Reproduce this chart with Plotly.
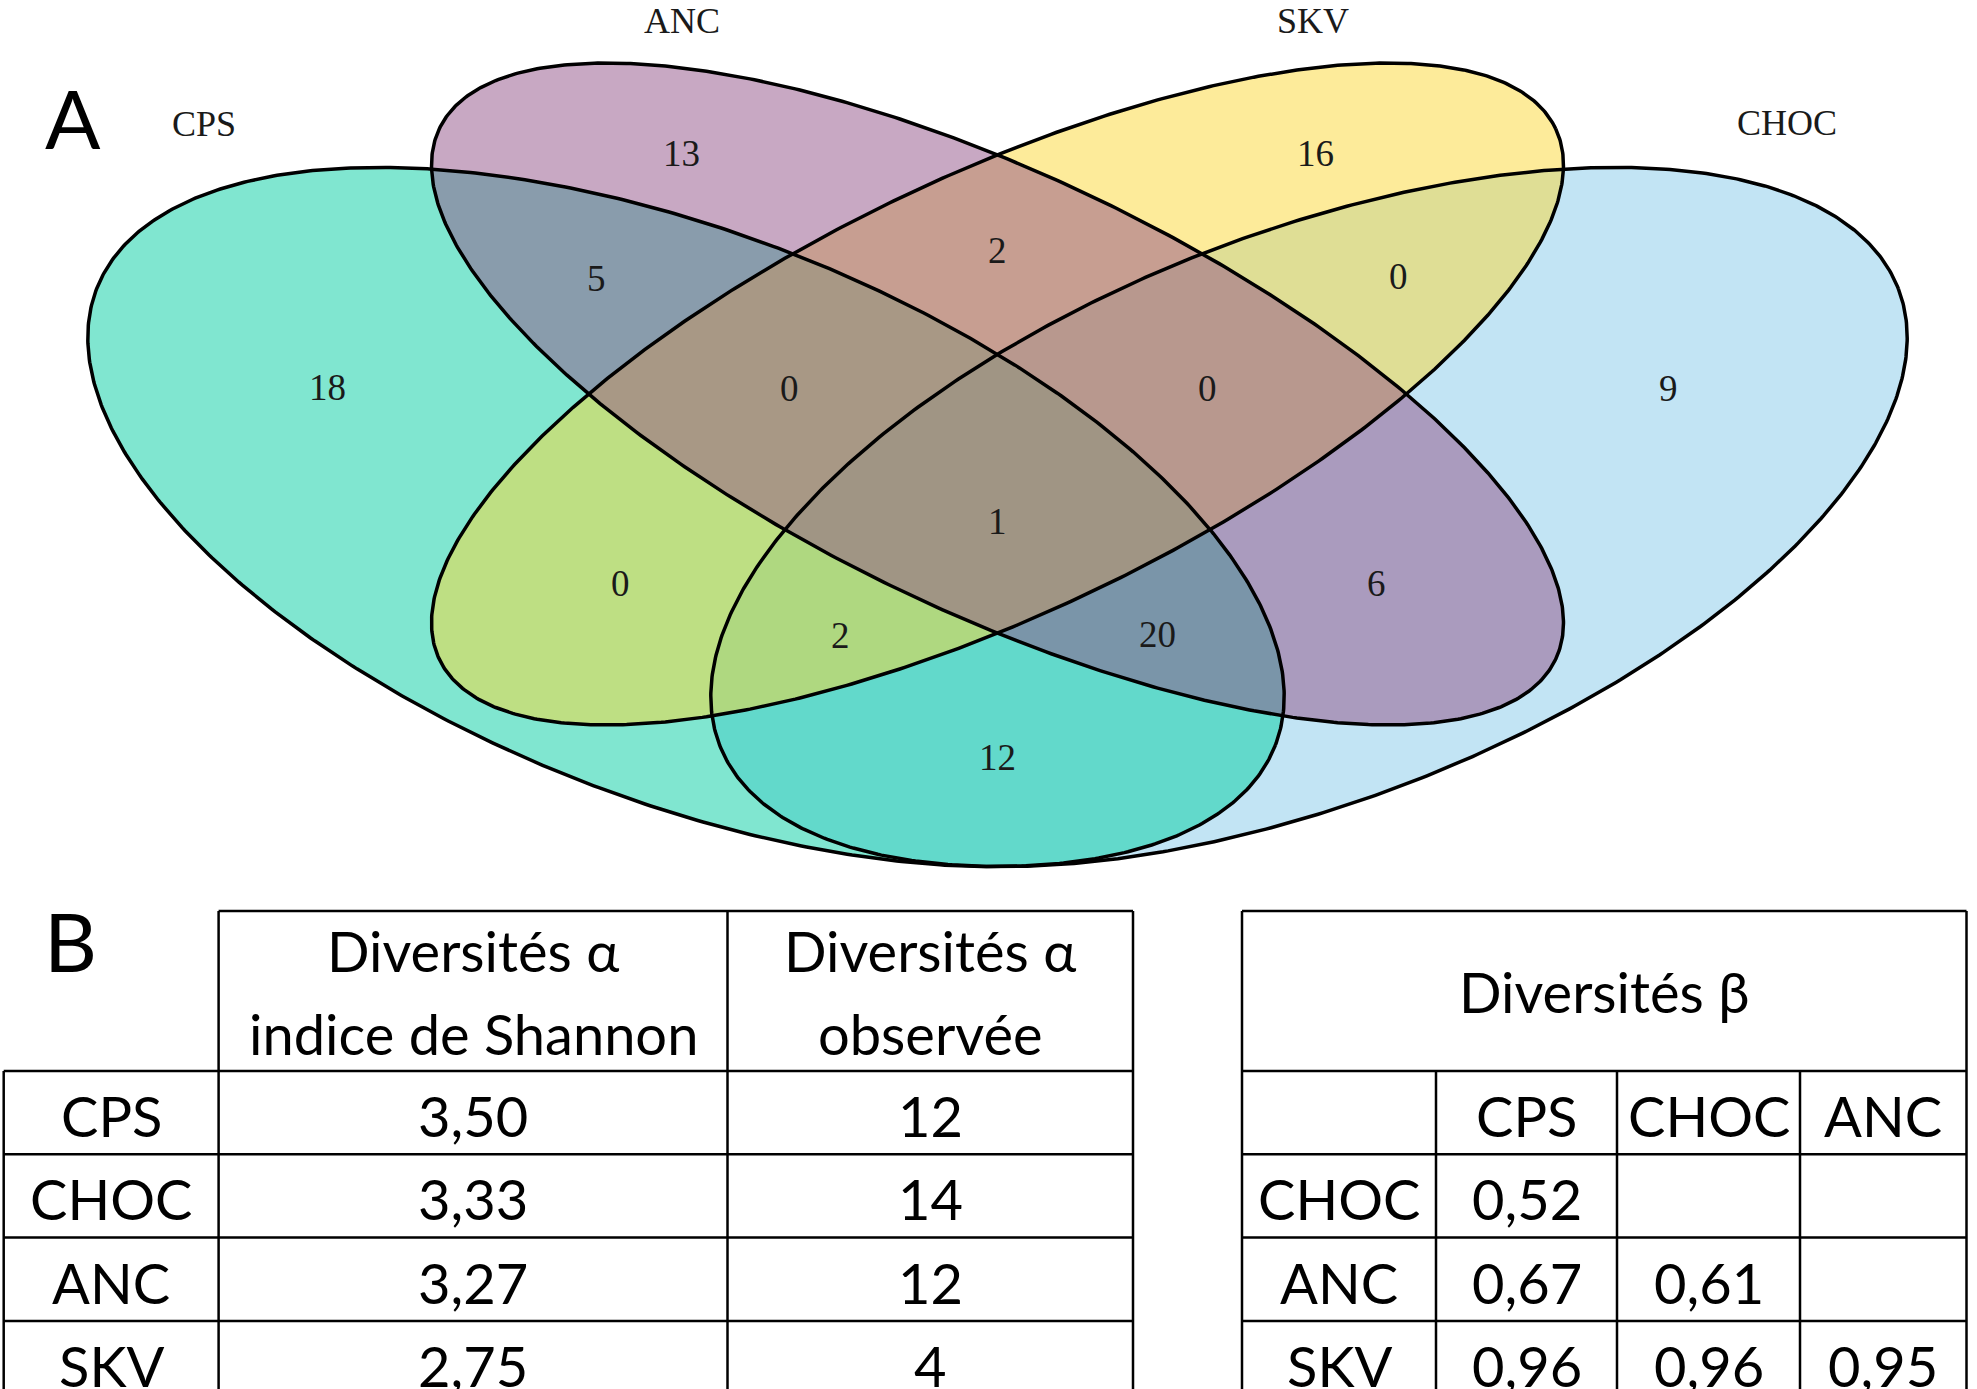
import numpy as np
import plotly.graph_objects as go

# ------------------------------------------------------------------
# DATA
# ------------------------------------------------------------------
set_names = ["CPS", "ANC", "SKV", "CHOC"]

# Venn regions (members of each exclusive region) and their counts
region_members = [
    ("CPS",), ("ANC",), ("SKV",), ("CHOC",),
    ("CPS", "ANC"), ("ANC", "SKV"), ("SKV", "CHOC"),
    ("CPS", "ANC", "SKV"), ("ANC", "SKV", "CHOC"),
    ("CPS", "ANC", "SKV", "CHOC"),
    ("CPS", "SKV"), ("ANC", "CHOC"),
    ("CPS", "SKV", "CHOC"), ("CPS", "ANC", "CHOC"),
    ("CPS", "CHOC"),
]
region_counts = [18, 13, 16, 9, 5, 2, 0, 0, 0, 1, 0, 6, 2, 20, 12]

# Table B (alpha diversity)
alpha_sites = ["CPS", "CHOC", "ANC", "SKV"]
shannon_index = [3.50, 3.33, 3.27, 2.75]
observed_richness = [12, 14, 12, 4]
alpha_headers = [["Diversités α", "indice de Shannon"], ["Diversités α", "observée"]]

# Table B (beta diversity)
beta_title = "Diversités β"
beta_rows = ["CHOC", "ANC", "SKV"]
beta_cols = ["CPS", "CHOC", "ANC"]
beta_values = [[0.52, None, None],
               [0.67, 0.61, None],
               [0.96, 0.96, 0.95]]

# ------------------------------------------------------------------
# LAYOUT / STYLE (pixel space of the 1977 x 1389 canvas)
# ------------------------------------------------------------------
W, H = 1977, 1389
AXIS_X = 997.5
CPS_CX = 686.0

ellipse_geom = {
    "CPS":  dict(cx=CPS_CX, cy=517.0, a=632.0, b=284.0, ang=21.17, rgb=(1, 205, 161)),
    "ANC":  dict(cx=AXIS_X, cy=394.0, a=618.0, b=219.0, ang=25.43, rgb=(145, 81, 135)),
    "SKV":  dict(cx=AXIS_X, cy=394.0, a=618.0, b=219.0, ang=-25.43, rgb=(251, 215, 53)),
    "CHOC": dict(cx=2 * AXIS_X - CPS_CX, cy=517.0, a=632.0, b=284.0, ang=-21.17, rgb=(133, 201, 233)),
}
draw_order = ["CHOC", "CPS", "SKV", "ANC"]

set_label_pos = {"CPS": (204, 124), "ANC": (682, 21), "SKV": (1313, 21), "CHOC": (1787, 123)}

region_label_pos = {
    frozenset(["CPS"]): (327, 387),
    frozenset(["ANC"]): (681, 153),
    frozenset(["SKV"]): (1315, 153),
    frozenset(["CHOC"]): (1668, 388),
    frozenset(["CPS", "ANC"]): (596, 278),
    frozenset(["ANC", "SKV"]): (997, 250),
    frozenset(["SKV", "CHOC"]): (1398, 276),
    frozenset(["CPS", "ANC", "SKV"]): (789, 388),
    frozenset(["ANC", "SKV", "CHOC"]): (1207, 388),
    frozenset(["CPS", "ANC", "SKV", "CHOC"]): (997, 521),
    frozenset(["CPS", "SKV"]): (620, 583),
    frozenset(["ANC", "CHOC"]): (1376, 583),
    frozenset(["CPS", "SKV", "CHOC"]): (840, 635),
    frozenset(["CPS", "ANC", "CHOC"]): (1157, 634),
    frozenset(["CPS", "CHOC"]): (997, 757),
}

SERIF = "Liberation Serif, Times New Roman, serif"
SANS = "Lato, Carlito, Calibri, sans-serif"
TABLE_FONT = 56
LINE_W = 2.5

fig = go.Figure()

# ---- Venn ellipses: fills first, then outlines ----
t = np.linspace(0, 2 * np.pi, 721)


def ellipse_xy(g):
    phi = np.deg2rad(g["ang"])
    x = g["cx"] + g["a"] * np.cos(t) * np.cos(phi) - g["b"] * np.sin(t) * np.sin(phi)
    y = g["cy"] + g["a"] * np.cos(t) * np.sin(phi) + g["b"] * np.sin(t) * np.cos(phi)
    return x, y


for name in draw_order:
    g = ellipse_geom[name]
    x, y = ellipse_xy(g)
    r, gg, b = g["rgb"]
    fig.add_trace(go.Scatter(
        x=x, y=y, mode="lines", fill="toself",
        fillcolor=f"rgba({r},{gg},{b},0.5)",
        line=dict(width=0, color="rgba(0,0,0,0)"),
        hoverinfo="skip", showlegend=False, name=name))

for name in draw_order:
    x, y = ellipse_xy(ellipse_geom[name])
    fig.add_trace(go.Scatter(
        x=x, y=y, mode="lines", line=dict(width=3.5, color="black"),
        hoverinfo="skip", showlegend=False))

annotations = []


def add_text(x, y, text, size, family, color="black"):
    annotations.append(dict(
        x=x, y=y, xref="x", yref="y", text=text, showarrow=False,
        xanchor="center", yanchor="middle", borderpad=0,
        font=dict(size=size, family=family, color=color)))


for name in set_names:
    px, py = set_label_pos[name]
    add_text(px, py, name, 36, SERIF, "#1a1a1a")

for members, count in zip(region_members, region_counts):
    px, py = region_label_pos[frozenset(members)]
    add_text(px, py, str(count), 37, SERIF, "#1a1a1a")

# panel letters
add_text(73, 117, "A", 82, SANS)
add_text(70, 940, "B", 82, SANS)

# ---- tables ----
shapes = []


def hline(y, x0, x1):
    shapes.append(dict(type="line", xref="x", yref="y", x0=x0, x1=x1, y0=y, y1=y,
                       line=dict(color="black", width=LINE_W)))


def vline(x, y0, y1):
    shapes.append(dict(type="line", xref="x", yref="y", x0=x, x1=x, y0=y0, y1=y1,
                       line=dict(color="black", width=LINE_W)))


def fmt(v):
    return "" if v is None else f"{v:.2f}".replace(".", ",")


TOP = 911.0
HEAD_BOT = 1071.0
ROW_H = 83.3
TXT_DY = 3.0

# left table (alpha)
lx = [3.7, 218.6, 727.5, 1133.0]
n_rows = len(alpha_sites)
l_bot = HEAD_BOT + n_rows * ROW_H
hline(TOP, lx[1], lx[-1])
for k in range(n_rows + 1):
    hline(HEAD_BOT + k * ROW_H, lx[0], lx[-1])
vline(lx[0], HEAD_BOT, l_bot)
for xv in lx[1:]:
    vline(xv, TOP, l_bot)

for j, lines in enumerate(alpha_headers):
    cx = (lx[j + 1] + lx[j + 2]) / 2
    add_text(cx, 950, lines[0], TABLE_FONT, SANS)
    add_text(cx, 1033, lines[1], TABLE_FONT, SANS)

for i, site in enumerate(alpha_sites):
    cy = HEAD_BOT + (i + 0.5) * ROW_H + TXT_DY
    add_text((lx[0] + lx[1]) / 2, cy, site, TABLE_FONT, SANS)
    add_text((lx[1] + lx[2]) / 2, cy, fmt(shannon_index[i]), TABLE_FONT, SANS)
    add_text((lx[2] + lx[3]) / 2, cy, str(observed_richness[i]), TABLE_FONT, SANS)

# right table (beta)
rx = [1242.0, 1436.0, 1617.0, 1800.0, 1966.5]
r_bot = HEAD_BOT + (len(beta_rows) + 1) * ROW_H
hline(TOP, rx[0], rx[-1])
for k in range(len(beta_rows) + 2):
    hline(HEAD_BOT + k * ROW_H, rx[0], rx[-1])
vline(rx[0], TOP, r_bot)
vline(rx[-1], TOP, r_bot)
for xv in rx[1:-1]:
    vline(xv, HEAD_BOT, r_bot)

add_text((rx[0] + rx[-1]) / 2, 991, beta_title, TABLE_FONT, SANS)
cy = HEAD_BOT + 0.5 * ROW_H + TXT_DY
for j, c in enumerate(beta_cols):
    add_text((rx[j + 1] + rx[j + 2]) / 2, cy, c, TABLE_FONT, SANS)
for i, rname in enumerate(beta_rows):
    cy = HEAD_BOT + (i + 1.5) * ROW_H + TXT_DY
    add_text((rx[0] + rx[1]) / 2, cy, rname, TABLE_FONT, SANS)
    for j, v in enumerate(beta_values[i]):
        if v is not None:
            add_text((rx[j + 1] + rx[j + 2]) / 2, cy, fmt(v), TABLE_FONT, SANS)

fig.update_layout(
    width=W, height=H,
    margin=dict(l=0, r=0, t=0, b=0),
    paper_bgcolor="white", plot_bgcolor="white",
    xaxis=dict(range=[0, W], visible=False, fixedrange=True),
    yaxis=dict(range=[H, 0], visible=False, fixedrange=True),
    shapes=shapes, annotations=annotations,
    showlegend=False,
)

fig.write_html(
    "out.html",
    config=dict(displayModeBar=False),
    post_script="document.body.style.margin='0px';document.body.style.overflow='hidden';",
)
